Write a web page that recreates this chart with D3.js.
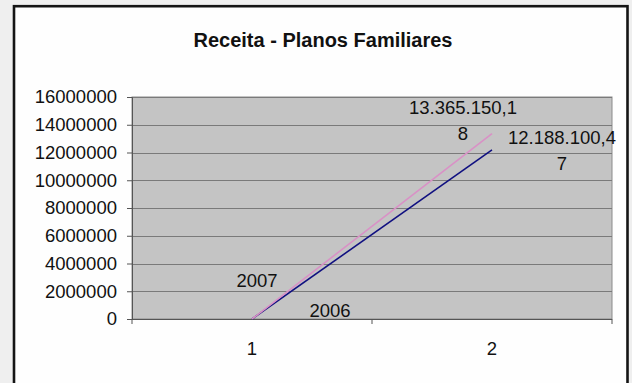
<!DOCTYPE html>
<html>
<head>
<meta charset="utf-8">
<script src="https://cdn.jsdelivr.net/npm/d3@7"></script>
<style>
  html, body { margin: 0; padding: 0; background: #efefef; }
  svg { display: block; }
  text { font-family: "Liberation Sans", Arial, sans-serif; fill: #111; }
</style>
</head>
<body>
<svg id="chart" width="632" height="383"></svg>
<script>
// Receita - Planos Familiares
const title = "Receita - Planos Familiares";
const categories = ["1", "2"];
const seriesNames = ["2006", "2007"];
const values2006 = [2006, 12188100.47];
const values2007 = [2007, 13365150.18];
const yTickValues = [0, 2000000, 4000000, 6000000, 8000000, 10000000, 12000000, 14000000, 16000000];

const series = [
  { name: seriesNames[0], values: values2006, color: "#101080" },
  { name: seriesNames[1], values: values2007, color: "#d991c6" }
];

// label offsets (px) from each point, per series
const labelOffsets = {
  "2006": [{ dx: 78, dy: -8 }, { dx: 70, dy: -12 }],
  "2007": [{ dx: 5, dy: -38 }, { dx: -29, dy: -26 }]
};

const W = 632, H = 383;
const plot = { left: 132, right: 612, top: 97, bottom: 319 };
const fontSize = 18.5;

const svg = d3.select("#chart");

// chart area frame
svg.append("rect")
  .attr("x", 14).attr("y", 6.2)
  .attr("width", 613.5).attr("height", 420)
  .attr("fill", "#fefefe")
  .attr("stroke", "#141414").attr("stroke-width", 2.6);

svg.append("text")
  .attr("x", 323).attr("y", 47)
  .attr("text-anchor", "middle")
  .attr("font-weight", "bold")
  .attr("font-size", 20)
  .text(title);

const x = d3.scalePoint().domain(categories).range([plot.left, plot.right]).padding(0.5);
const y = d3.scaleLinear().domain([0, 16000000]).range([plot.bottom, plot.top]);

// plot area background
svg.append("rect")
  .attr("x", plot.left).attr("y", plot.top)
  .attr("width", plot.right - plot.left).attr("height", plot.bottom - plot.top)
  .attr("fill", "#c4c4c4")
  .attr("stroke", "#8a8a8a").attr("stroke-width", 1);

// gridlines
svg.append("g").selectAll("line").data(yTickValues).join("line")
  .attr("x1", plot.left).attr("x2", plot.right)
  .attr("y1", d => Math.round(y(d)) + 0.5).attr("y2", d => Math.round(y(d)) + 0.5)
  .attr("stroke", "#7a7a7a").attr("stroke-width", 1.2);

// y axis
const yAxis = svg.append("g")
  .attr("transform", `translate(${plot.left},0)`)
  .call(d3.axisLeft(y).tickValues(yTickValues).tickFormat(d3.format("d")).tickSize(5).tickPadding(10));
yAxis.select(".domain").attr("stroke", "#555");
yAxis.selectAll(".tick line").attr("stroke", "#555");
yAxis.selectAll("text").attr("font-size", fontSize).attr("fill", "#111")
  .attr("font-family", "Liberation Sans, Arial, sans-serif");

// x axis: ticks on category boundaries, labels at category centres
const step = x.step();
const boundaries = d3.range(categories.length + 1).map(i => plot.left + i * step);
const xAxisG = svg.append("g");
xAxisG.append("line")
  .attr("x1", plot.left).attr("x2", plot.right)
  .attr("y1", plot.bottom + 0.5).attr("y2", plot.bottom + 0.5)
  .attr("stroke", "#555").attr("stroke-width", 1.2);
xAxisG.selectAll("line.tk").data(boundaries).join("line").attr("class", "tk")
  .attr("x1", d => d).attr("x2", d => d)
  .attr("y1", plot.bottom).attr("y2", plot.bottom + 5)
  .attr("stroke", "#555");
xAxisG.selectAll("text").data(categories).join("text")
  .attr("x", d => x(d)).attr("y", 349)
  .attr("dy", "0.35em")
  .attr("text-anchor", "middle")
  .attr("font-size", fontSize)
  .text(d => d);

// series lines
const line = d3.line().x((d, i) => x(categories[i])).y(d => y(d));
svg.append("g").selectAll("path").data(series).join("path")
  .attr("d", s => line(s.values))
  .attr("fill", "none")
  .attr("stroke", s => s.color)
  .attr("stroke-width", 1.6);

// data labels
const br = d3.formatLocale({ decimal: ",", thousands: ".", grouping: [3], currency: ["R$", ""] });
const fmtMoney = br.format(",.2f");
const fmtLabel = v => Number.isInteger(v) ? String(v) : fmtMoney(v);
const maxLabelWidth = 113;
const lineHeight = 25.5;

const labelsG = svg.append("g");
series.forEach(s => {
  s.values.forEach((v, i) => {
    const off = labelOffsets[s.name][i];
    const cx = x(categories[i]) + off.dx;
    const cy = y(v) + off.dy;
    const t = labelsG.append("text")
      .attr("text-anchor", "middle")
      .attr("font-size", fontSize);
    // wrap the label character by character within a fixed width
    const str = fmtLabel(v);
    const lines = [];
    let cur = "";
    const probe = t.append("tspan");
    for (const ch of str) {
      probe.text(cur + ch);
      if (cur && probe.node().getComputedTextLength() > maxLabelWidth) {
        lines.push(cur);
        cur = ch;
      } else {
        cur += ch;
      }
    }
    lines.push(cur);
    probe.remove();
    lines.forEach((ln, k) => {
      t.append("tspan")
        .attr("x", cx)
        .attr("y", cy + k * lineHeight)
        .attr("dy", "0.35em")
        .text(ln);
    });
  });
});
</script>
</body>
</html>
